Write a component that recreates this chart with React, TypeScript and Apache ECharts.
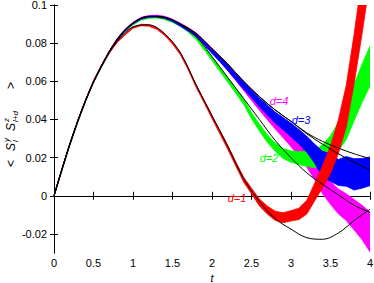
import React, { useEffect, useRef } from "react";
import * as echarts from "echarts";

// ---------- data ----------
const X_TICKS = [0, 0.5, 1, 1.5, 2, 2.5, 3, 3.5, 4];
const Y_TICKS = [-0.02, 0, 0.02, 0.04, 0.06, 0.08, 0.1];
const Y_TICK_LABELS = ["-0.02", "0", "0.02", "0.04", "0.06", "0.08", "0.1"];

// theory curves (thin black lines)
const T_THEORY = [0, 0.2, 0.4, 0.6, 0.8, 1.0, 1.2, 1.4, 1.6, 1.8, 2.0, 2.2, 2.4, 2.6, 2.8, 3.0, 3.2, 3.4, 3.6, 3.8, 4.0];
const TH_D1 = [0, 0.027, 0.05, 0.068, 0.081, 0.0885, 0.0896, 0.085, 0.075, 0.058, 0.042, 0.026, 0.009, -0.003, -0.012, -0.0175, -0.022, -0.0228, -0.0195, -0.013, -0.007];
const TH_D2 = [0, 0.027, 0.05, 0.068, 0.082, 0.0905, 0.094, 0.0935, 0.0898, 0.0835, 0.073, 0.062, 0.051, 0.04, 0.029, 0.02, 0.012, 0.006, 0.0005, -0.005, -0.0087];
const TH_D3 = [0, 0.027, 0.05, 0.068, 0.082, 0.0905, 0.094, 0.0935, 0.09, 0.085, 0.077, 0.069, 0.06, 0.052, 0.045, 0.039, 0.033, 0.0285, 0.025, 0.022, 0.0195];
const TH_D4 = [0, 0.027, 0.05, 0.068, 0.082, 0.0905, 0.094, 0.0935, 0.09, 0.085, 0.077, 0.069, 0.06, 0.052, 0.045, 0.039, 0.0325, 0.027, 0.022, 0.0175, 0.0135];

// simulation bands: centre and half width
const T_BAND = [0, 0.1, 0.2, 0.3, 0.4, 0.5, 0.6, 0.7, 0.8, 0.9, 1.0, 1.1, 1.2, 1.3, 1.4, 1.5, 1.6, 1.7, 1.8, 1.9, 2.0, 2.1, 2.2, 2.3, 2.4, 2.5, 2.6, 2.7, 2.8, 2.9, 3.0, 3.1, 3.2, 3.3, 3.4, 3.5, 3.6, 3.7, 3.8, 3.9, 4.0];

const D1_MID = [0, 0.0137, 0.027, 0.039, 0.05, 0.06, 0.068, 0.075, 0.0807, 0.0847, 0.0882, 0.0895, 0.0893, 0.0877, 0.0846, 0.08, 0.0745, 0.0665, 0.0575, 0.0495, 0.0413, 0.0333, 0.0253, 0.0168, 0.0085, 0.0025, -0.0035, -0.0075, -0.0105, -0.0115, -0.0105, -0.0095, -0.006, 0.002, 0.01, 0.019, 0.031, 0.047, 0.072, 0.1, 0.13];
const D1_ERR = [0.0003, 0.0003, 0.0003, 0.0003, 0.0003, 0.0003, 0.0003, 0.0003, 0.0003, 0.0004, 0.0004, 0.0004, 0.0004, 0.0004, 0.0005, 0.0005, 0.0006, 0.0006, 0.0007, 0.0007, 0.0008, 0.0009, 0.001, 0.0011, 0.0013, 0.0015, 0.0018, 0.0021, 0.0024, 0.0026, 0.0027, 0.003, 0.0036, 0.0046, 0.0058, 0.0072, 0.0088, 0.011, 0.013, 0.015, 0.017];

const D2_MID = [0, 0.0134, 0.0266, 0.0386, 0.0496, 0.0595, 0.0675, 0.075, 0.0814, 0.0864, 0.0898, 0.0923, 0.0933, 0.0935, 0.0928, 0.0912, 0.0893, 0.0863, 0.0826, 0.0774, 0.0718, 0.0662, 0.0606, 0.055, 0.0493, 0.042, 0.0358, 0.03, 0.0255, 0.0222, 0.0205, 0.0198, 0.0193, 0.0192, 0.0212, 0.025, 0.031, 0.038, 0.049, 0.059, 0.068];
const D2_ERR = [0.0003, 0.0003, 0.0003, 0.0003, 0.0003, 0.0003, 0.0003, 0.0003, 0.0003, 0.0003, 0.0003, 0.0003, 0.0003, 0.0003, 0.0004, 0.0004, 0.0005, 0.0006, 0.0007, 0.0008, 0.0009, 0.001, 0.0011, 0.0012, 0.0014, 0.0016, 0.0018, 0.002, 0.0022, 0.0026, 0.003, 0.0034, 0.0038, 0.0045, 0.0055, 0.0065, 0.0075, 0.0085, 0.0095, 0.01, 0.0105];

const D3_MID = [0, 0.0135, 0.0268, 0.0388, 0.0498, 0.0598, 0.0678, 0.0753, 0.0818, 0.0868, 0.0903, 0.0928, 0.0938, 0.094, 0.0933, 0.0918, 0.0893, 0.0869, 0.084, 0.08, 0.0756, 0.0714, 0.067, 0.0624, 0.0578, 0.0535, 0.049, 0.045, 0.041, 0.0378, 0.0345, 0.031, 0.027, 0.022, 0.0165, 0.0148, 0.0122, 0.0128, 0.0112, 0.0118, 0.0128];
const D3_ERR = [0.0003, 0.0003, 0.0003, 0.0003, 0.0003, 0.0003, 0.0003, 0.0003, 0.0003, 0.0003, 0.0003, 0.0003, 0.0003, 0.0003, 0.0004, 0.0004, 0.0005, 0.0006, 0.0007, 0.0008, 0.001, 0.0012, 0.0014, 0.0016, 0.0018, 0.002, 0.0023, 0.0026, 0.0029, 0.0032, 0.0035, 0.0038, 0.0042, 0.005, 0.0068, 0.0072, 0.0068, 0.0078, 0.0082, 0.0078, 0.0075];

const D4_MID = [0, 0.0139, 0.0272, 0.0392, 0.0502, 0.0602, 0.0682, 0.0757, 0.0822, 0.0872, 0.0907, 0.0932, 0.0942, 0.0944, 0.0937, 0.0922, 0.0898, 0.0873, 0.0845, 0.0805, 0.0763, 0.0719, 0.0672, 0.0622, 0.0572, 0.0522, 0.0472, 0.0425, 0.0378, 0.0334, 0.029, 0.0242, 0.019, 0.013, 0.0065, 0.0015, -0.003, -0.006, -0.01, -0.014, -0.019];
const D4_ERR = [0.0003, 0.0003, 0.0003, 0.0003, 0.0003, 0.0003, 0.0003, 0.0003, 0.0003, 0.0003, 0.0003, 0.0003, 0.0003, 0.0003, 0.0004, 0.0004, 0.0007, 0.0008, 0.0009, 0.001, 0.0012, 0.0014, 0.0016, 0.0018, 0.002, 0.0022, 0.0024, 0.0026, 0.0028, 0.003, 0.0033, 0.0036, 0.004, 0.0046, 0.0055, 0.006, 0.0065, 0.007, 0.008, 0.009, 0.0105];

const FONT = '"Liberation Sans", Arial, Helvetica, sans-serif';

function bandSeries(name: string, mid: number[], err: number[], color: string) {
  const rows = T_BAND.map((t, i) => [t, mid[i] - err[i], mid[i] + err[i]]);
  return {
    type: "custom",
    name,
    data: rows,
    clip: true,
    silent: true,
    encode: { x: 0, y: [1, 2] },
    renderItem: (params: any, api: any) => {
      if (params.dataIndex !== 0) return null;
      const upper = rows.map((r) => api.coord([r[0], r[2]]));
      const lower = rows.map((r) => api.coord([r[0], r[1]])).reverse();
      const cs = params.coordSys;
      return {
        type: "polygon",
        shape: { points: upper.concat(lower) },
        style: { fill: color, stroke: color, lineWidth: 0.8 },
        clipPath: { type: "rect", shape: { x: cs.x, y: cs.y, width: cs.width, height: cs.height } },
      };
    },
  };
}

function theorySeries(name: string, vals: number[]) {
  return {
    type: "line", name, data: T_THEORY.map((t, i) => [t, vals[i]]),
    symbol: "none", smooth: 0.35, silent: true,
    lineStyle: { width: 1, color: "#000" },
  };
}

function label(text: string, x: number, y: number, color: string) {
  return {
    type: "text", x, y, z: 100,
    style: {
      text, fill: color, font: `italic 11px ${FONT}`,
      align: "center", verticalAlign: "middle", textAlign: "center", textVerticalAlign: "middle",
    },
  };
}

function yt(text: string, x: number, y: number, size: number, italic = true) {
  return {
    type: "text", x, y,
    style: {
      text, fill: "#000", font: `${italic ? "italic " : ""}${size}px ${FONT}`,
      align: "left", verticalAlign: "middle", textAlign: "left", textVerticalAlign: "middle",
    },
  };
}

export default function App() {
  const ref = useRef<HTMLDivElement>(null);
  useEffect(() => {
    document.body.style.margin = "0";
    const chart = echarts.init(ref.current!, null, { renderer: "svg" });
    const axisCommon = {
      axisLine: { show: true, lineStyle: { color: "#000", width: 1 } },
      splitLine: { show: false },
    };
    chart.setOption({
      animation: false,
      grid: { left: 54, right: 4, top: 5, bottom: 30, outerBoundsMode: "none", containLabel: false },
      xAxis: [
        {
          type: "value", min: 0, max: 4, interval: 0.5, position: "bottom",
          ...axisCommon,
          axisTick: { inside: true, length: 4, lineStyle: { color: "#000" } },
          axisLabel: { margin: 4, color: "#000", fontSize: 11, fontFamily: FONT, formatter: (v: number) => String(v) },
          name: "t", nameLocation: "middle", nameGap: 15,
          nameTextStyle: { fontStyle: "italic", fontSize: 11, fontFamily: FONT, color: "#000" },
        },
        {
          type: "value", min: 0, max: 4, interval: 0.5, position: "top",
          ...axisCommon,
          axisTick: { inside: true, length: 4, lineStyle: { color: "#000" } },
          axisLabel: { show: false },
        },
      ],
      yAxis: [
        {
          type: "value", min: -0.03, max: 0.1, position: "left",
          ...axisCommon,
          axisTick: { inside: true, length: 4, customValues: Y_TICKS, lineStyle: { color: "#000" } },
          axisLabel: {
            margin: 7, color: "#000", fontSize: 11, fontFamily: FONT, customValues: Y_TICKS,
            formatter: (v: number) => {
              const i = Y_TICKS.findIndex((u) => Math.abs(u - v) < 1e-9);
              return i >= 0 ? Y_TICK_LABELS[i] : "";
            },
          },
        },
        {
          type: "value", min: -0.03, max: 0.1, position: "right",
          ...axisCommon,
          axisTick: { inside: true, length: 4, customValues: Y_TICKS, lineStyle: { color: "#000" } },
          axisLabel: { show: false, customValues: Y_TICKS },
        },
      ],
      series: [
        bandSeries("d4", D4_MID, D4_ERR, "#ff00ff"),
        bandSeries("d2", D2_MID, D2_ERR, "#00ff00"),
        bandSeries("d3", D3_MID, D3_ERR, "#0000ff"),
        bandSeries("d1", D1_MID, D1_ERR, "#ff0000"),
        theorySeries("th1", TH_D1),
        theorySeries("th2", TH_D2),
        theorySeries("th3", TH_D3),
        theorySeries("th4", TH_D4),
      ],
      graphic: [
        label("d=4", 279, 101, "#ff00ff"),
        label("d=3", 301, 120, "#0000ff"),
        label("d=2", 269, 158, "#00ff00"),
        label("d=1", 237, 198, "#ff0000"),
        {
          type: "group", x: 11, y: 167, rotation: Math.PI / 2,
          children: [
            yt("<", 0, 0, 12, false),
            yt("S", 16, 0, 12),
            yt("y", 25, -5, 8),
            yt("l", 25, 4, 8),
            yt("S", 36, 0, 12),
            yt("z", 45, -5, 8),
            yt("l+d", 45, 4, 8),
            yt(">", 78, 0, 12, false),
          ],
        },
      ],
    });
    return () => chart.dispose();
  }, []);
  return <div ref={ref} style={{ width: 374, height: 283 }} />;
}
